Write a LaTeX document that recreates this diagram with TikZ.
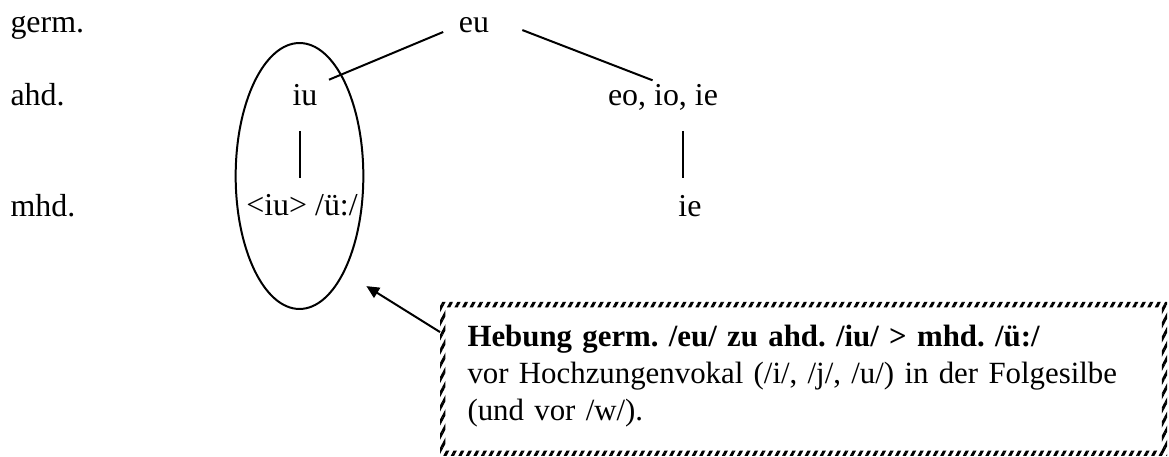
\documentclass[tikz,border=0pt]{standalone}
\usepackage{fontspec}
\setmainfont{Liberation Serif}
\usetikzlibrary{arrows.meta}
\usetikzlibrary{shapes.geometric}
\usetikzlibrary{patterns.meta}
\usetikzlibrary{calc}

\begin{document}
\frenchspacing
\begin{tikzpicture}[x=0.376pt, y=-0.376pt,
    font=\fontsize{12pt}{13.7pt}\selectfont,
    >={Triangle[length=4.8pt,width=4.4pt]},
    stage/.style = {anchor=base west, inner sep=0pt},
    form/.style = {anchor=base, inner sep=0pt},
    branch/.style = {line width=0.75pt},
    ring/.style = {ellipse, draw, line width=0.75pt, inner sep=0pt,
                   minimum width=48pt, minimum height=100pt},
    frame/.style = {anchor=north west, inner sep=0pt,
                    minimum width=273pt, minimum height=57.5pt},
    notetext/.style = {anchor=north west, inner sep=0pt, align=left,
                       text width=270pt, font=\fontsize{11.6pt}{13.75pt}\selectfont}]
  \useasboundingbox (0,0) rectangle (1169,457);

  % stages
  \node (germ) [stage] at (10,33) {germ.};
  \node (ahd) [stage] at (10,106) {ahd.};
  \node (mhd) [stage] at (10,217) {mhd.};

  % forms
  \node (eu) [form] at (474,33) {eu};
  \node (iu) [form] at (305,106) {iu};
  \node (eo) [form] at (663,106) {eo, io, ie};
  \node (ue) [form] at (302,216) {\textless iu\textgreater{} /ü:/};
  \node (ie) [form] at (690,217) {ie};

  \path[branch]
    (eu.west) edge[shorten <=6.2pt, shorten >=4.5pt] (iu.north east)
    (eu.north east) edge[shorten <=13.2pt, shorten >=4.2pt] (eo.north);
  \draw[branch, shorten <=9pt, shorten >=6pt]
    ($(iu.south)+(-5,0)$) -- ($(iu.south |- ue.north)+(-5,0)$);
  \draw[branch, shorten <=7.3pt, shorten >=6.4pt]
    ($(ie.north |- eo.south)+(-7,0)$) -- ($(ie.north)+(-7,0)$);

  % circled change and its rule
  \node (ring) [ring] at (299.5,176) {};
  \node (rule) [frame] at (440,302) {};
  \node (ruletext) [notetext] at (467,325)
    {\textbf{Hebung germ. /eu/ zu ahd. /iu/ \textgreater{} mhd. /ü:/}\\
     vor Hochzungenvokal (/i/, /j/, /u/) in der Folgesilbe\\
     (und vor /w/).};
  \fill[pattern={Lines[angle=62,distance=2.5pt,line width=1.1pt]}, even odd rule]
    (rule.south west) rectangle (rule.north east)
    ([shift={(2pt,2pt)}]rule.south west) rectangle ([shift={(-2pt,-2pt)}]rule.north east);
  \draw[->, branch, shorten >=9.7pt] ([yshift=-11.3pt]rule.north west) -- (ring.-65);
\end{tikzpicture}
\end{document}
